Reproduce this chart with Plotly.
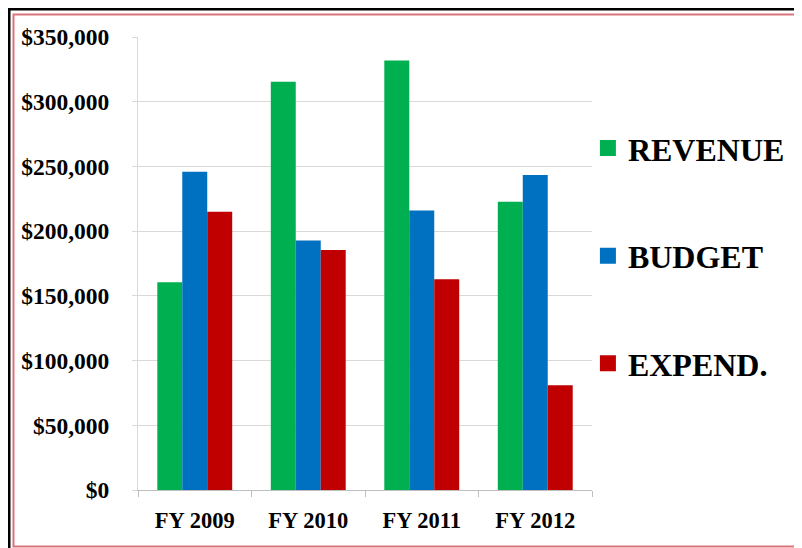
import plotly.graph_objects as go

categories = ["FY 2009", "FY 2010", "FY 2011", "FY 2012"]
revenue = [160500, 315500, 331800, 222800]
budget = [245800, 192700, 216000, 243400]
expend = [215000, 185500, 162800, 81000]
series_names = ["REVENUE", "BUDGET", "EXPEND."]
series_colors = ["#00b050", "#0070c0", "#c00000"]
y_tickvals = [0, 50000, 100000, 150000, 200000, 250000, 300000, 350000]
y_ticktext = ["$0", "$50,000", "$100,000", "$150,000", "$200,000", "$250,000", "$300,000", "$350,000"]

W, H = 802, 548
L, T = 130, 29
pw, ph = 454, 453
R = W - L - pw
B = H - T - ph


def px(x):
    return (x - L) / pw


def py(y):
    return (T + ph - y) / ph


fig = go.Figure()
for name, vals, col in zip(series_names, [revenue, budget, expend], series_colors):
    fig.add_trace(go.Bar(x=categories, y=vals, name=name, marker_color=col,
                         marker_line_width=0, showlegend=False))
for i, (name, col) in enumerate(zip(series_names, series_colors)):
    fig.add_trace(go.Scatter(x=[None], y=[None], mode="markers", name=name,
                             marker=dict(symbol="square", size=16, color=col),
                             legendgroup=f"g{i}", showlegend=True))

shapes = [
    dict(type="line", xref="paper", yref="paper", x0=px(0), x1=px(802), y0=py(1), y1=py(1),
         line=dict(color="black", width=3)),
    dict(type="line", xref="paper", yref="paper", x0=px(1), x1=px(1), y0=py(0), y1=py(548),
         line=dict(color="black", width=3)),
    dict(type="rect", xref="paper", yref="paper", x0=px(5.5), x1=px(820), y0=py(6.5), y1=py(538.5),
         line=dict(color="#d9747a", width=2)),
]

fig.update_layout(
    width=W, height=H,
    margin=dict(l=L, r=R, t=T, b=B, pad=0),
    paper_bgcolor="white", plot_bgcolor="white",
    barmode="group", bargap=0.34, bargroupgap=0,
    font=dict(family="Liberation Serif", color="black", weight="bold"),
    shapes=shapes,
    legend=dict(x=0.991, xanchor="left", y=0.815, yanchor="top",
                font=dict(size=32, family="Liberation Serif", weight="bold"),
                tracegroupgap=63, traceorder="grouped", bgcolor="rgba(0,0,0,0)"),
    xaxis=dict(type="category", showline=True, linecolor="#bfbfbf", linewidth=1,
               ticks="outside", tickson="boundaries", ticklen=6, tickcolor="#bfbfbf",
               tickfont=dict(size=22.5), ticklabelstandoff=10, showgrid=False),
    yaxis=dict(range=[0, 350000], tickvals=y_tickvals, ticktext=y_ticktext,
               showgrid=True, gridcolor="#d9d9d9", gridwidth=1,
               showline=True, linecolor="#d9d9d9", ticks="outside", ticklen=5,
               tickcolor="#d9d9d9", tickfont=dict(size=23.5), ticklabelstandoff=18,
               zeroline=False),
)

fig.write_html("out.html")
